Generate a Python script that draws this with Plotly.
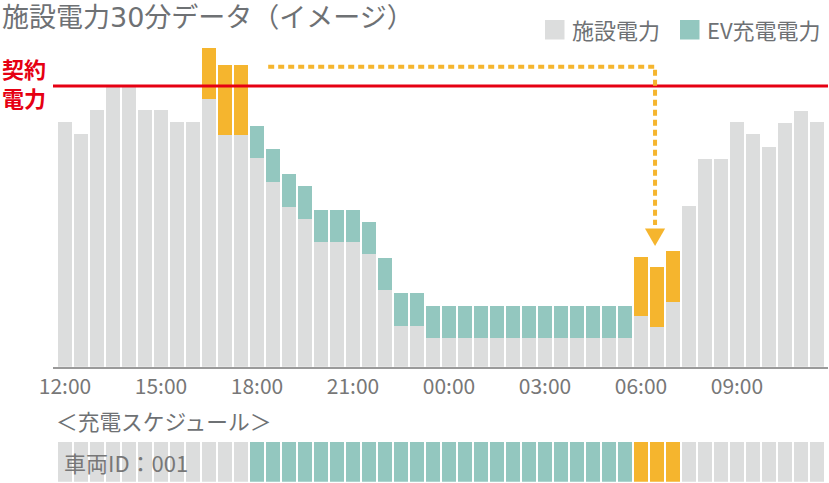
import plotly.graph_objects as go

# 30-minute slots, 12:00 -> 11:30 next day (index 0..47)
slots = list(range(48))
tick_slots = [0, 6, 12, 18, 24, 30, 36, 42]
tick_labels = ["12:00", "15:00", "18:00", "21:00", "00:00", "03:00", "06:00", "09:00"]

# facility power (contract power = 100)
facility = [87.3, 82.8, 91.4, 100.0, 100.0, 91.4, 91.4, 87.3, 87.3, 95.5, 82.5, 82.5,
            74.2, 65.9, 57.0, 52.7, 44.3, 44.3, 44.3, 40.0, 27.3, 14.6, 14.6, 10.3,
            10.3, 10.3, 10.3, 10.3, 10.3, 10.3, 10.3, 10.3, 10.3, 10.3, 10.3, 10.3,
            18.2, 14.2, 23.2, 57.2, 74.0, 74.0, 87.0, 82.9, 78.3, 86.7, 91.1, 87.0]
# EV charging on top of facility power
ev_charge = [0, 0, 0, 0, 0, 0, 0, 0, 0, 18.0, 25.0, 25.0,
             11.5, 11.5, 11.5, 11.5, 11.5, 11.5, 11.5, 11.5, 11.5, 11.5, 11.5, 11.5,
             11.5, 11.5, 11.5, 11.5, 11.5, 11.5, 11.5, 11.5, 11.5, 11.5, 11.5, 11.5,
             21.0, 21.4, 18.0, 0, 0, 0, 0, 0, 0, 0, 0, 0]
# 1 = normal charging, 2 = peak / shifted charging
ev_kind = [0] * 9 + [2, 2, 2] + [1] * 24 + [2, 2, 2] + [0] * 9
# charging schedule of vehicle 001: 0 idle, 1 charge, 2 shifted charge
schedule = [0] * 12 + [1] * 24 + [2, 2, 2] + [0] * 9
contract = 100

GRAY = "#dcdddd"
TEAL = "#93c7bf"
ORANGE = "#f5b52e"
RED = "#e60012"
TXT = "#6e7174"
kind_color = {0: GRAY, 1: TEAL, 2: ORANGE}

W, H = 829, 483
L, R = 53, 1
FONT = "Noto Sans CJK JP"


def px_x(p):
    return (p - L) / (W - L - R)


def px_y(p):
    return (H - p) / H


fig = go.Figure()
fig.add_trace(go.Bar(x=slots, y=facility, marker_color=GRAY, name="施設電力",
                     marker_line_width=0, xaxis="x", yaxis="y"))
fig.add_trace(go.Bar(x=slots, y=ev_charge, marker_color=[kind_color[k] for k in ev_kind],
                     name="EV充電電力", marker_line_width=0, xaxis="x", yaxis="y"))
fig.add_trace(go.Bar(x=slots, y=[1] * len(slots), marker_color=[kind_color[k] for k in schedule],
                     marker_line_width=0, xaxis="x2", yaxis="y2"))

base_px = 366.7
fig.update_layout(
    width=W, height=H,
    margin=dict(l=L, r=R, t=0, b=0),
    plot_bgcolor="white", paper_bgcolor="white",
    barmode="stack", bargap=0.16, showlegend=False,
    font=dict(family=FONT, color=TXT),
    xaxis=dict(range=[-0.75, 47.69], tickvals=tick_slots, ticktext=tick_labels,
               showgrid=False, zeroline=False, showline=True, linecolor="#9a9a9a",
               linewidth=1.5, ticks="", tickfont=dict(size=21, color="#777777"),
               anchor="y"),
    yaxis=dict(domain=[px_y(base_px), 1], range=[0, base_px / 2.807],
               visible=False, showgrid=False),
    xaxis2=dict(range=[-0.75, 47.69], visible=False, anchor="y2"),
    yaxis2=dict(domain=[px_y(481.7), px_y(441.7)], range=[0, 1], visible=False),
)

# contract power line
fig.add_shape(type="line", xref="paper", yref="y", x0=0, x1=1, y0=contract, y1=contract,
              line=dict(color=RED, width=3))

# arrow: shift of peak charging to early morning
src, dst = 12.7, 36.88
arrow_y = 106.9
fig.add_shape(type="path", xref="x", yref="y",
              path=f"M {src},{arrow_y} L {dst},{arrow_y} L {dst},50.5",
              line=dict(color=ORANGE, width=4, dash="6px,4px"))
fig.add_shape(type="path", xref="x", yref="y",
              path=f"M {dst - 0.63},49.2 L {dst + 0.63},49.2 L {dst},43.0 Z",
              fillcolor=ORANGE, line=dict(width=0))

title = ("施設電力<span style='font-family:DejaVu Sans'>30</span>"
         "分データ（イメージ）")
annos = [
    dict(text=title, x=px_x(0), y=px_y(16), xanchor="left",
         yanchor="middle", font=dict(size=27, color=TXT)),
    dict(text="<b>契約<br>電力</b>", x=px_x(0), y=px_y(83), xanchor="left", yanchor="middle",
         align="left", font=dict(size=22, color=RED)),
    dict(text="＜充電スケジュール＞", x=px_x(54), y=px_y(420), xanchor="left",
         yanchor="middle", font=dict(size=21.7, color=TXT)),
    dict(text="車両ID：001", x=px_x(62), y=px_y(462), xanchor="left", yanchor="middle",
         font=dict(size=22, color="#777777")),
    dict(text="施設電力", x=px_x(570), y=px_y(29.5), xanchor="left", yanchor="middle",
         font=dict(size=22, color=TXT)),
    dict(text="EV充電電力", x=px_x(705), y=px_y(29.5), xanchor="left", yanchor="middle",
         font=dict(size=22, color=TXT)),
]
for a in annos:
    fig.add_annotation(xref="paper", yref="paper", showarrow=False, **a)

for x0, col in [(545, GRAY), (680, TEAL)]:
    fig.add_shape(type="rect", xref="paper", yref="paper", x0=px_x(x0), x1=px_x(x0 + 19.5),
                  y0=px_y(39.5), y1=px_y(20), fillcolor=col, line=dict(width=0))

# page has a default 8px body margin; drop it so the figure fills the window
fig.write_html("out.html", config={"displayModeBar": False},
               post_script="document.body.style.margin='0';")
